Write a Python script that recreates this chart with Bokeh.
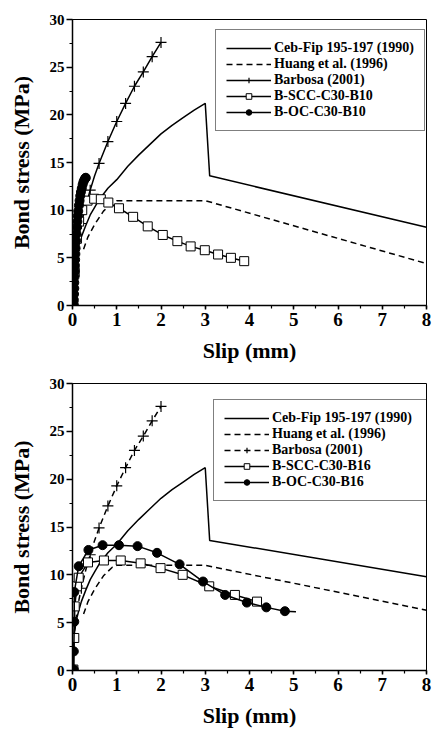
from bokeh.plotting import figure
from bokeh.layouts import column
from bokeh.models import Legend, LegendItem, Range1d, SingleIntervalTicker
from bokeh.embed import file_html
from bokeh.resources import INLINE

# ---------------- data ----------------
cebfip_s = [0, 0.01, 0.03, 0.05, 0.1, 0.15, 0.2, 0.3, 0.4, 0.5, 0.6, 0.8, 1.0, 1.25, 1.5, 1.75,
            2.0, 2.25, 2.5, 2.75, 3.0, 3.1, 8.0]
cebfip_tau_b10 = [0, 2.4, 3.5, 4.2, 5.5, 6.4, 7.2, 8.4, 9.5, 10.3, 11.1, 12.3, 13.2, 14.6, 15.8, 16.9,
                  18.0, 18.9, 19.7, 20.5, 21.2, 13.6, 8.2]
cebfip_tau_b16 = [0, 2.4, 3.5, 4.2, 5.5, 6.4, 7.2, 8.4, 9.5, 10.3, 11.1, 12.3, 13.2, 14.6, 15.8, 16.9,
                  18.0, 18.9, 19.7, 20.5, 21.2, 13.6, 9.8]

huang_s = [0.25, 0.35, 0.5, 0.7, 0.9, 1.0, 3.0, 8.0]
huang_tau_b10 = [5.9, 7.2, 8.5, 9.9, 10.8, 11.0, 11.0, 4.4]
huang_tau_b16 = [5.9, 7.2, 8.5, 9.9, 10.8, 11.0, 11.0, 6.3]

barbosa_s = [0, 0.02, 0.05, 0.1, 0.15, 0.2, 0.3, 0.4, 0.5, 0.6, 0.8, 1.0, 1.2, 1.4, 1.6, 1.8, 2.0]
barbosa_tau = [0, 2.7, 4.3, 6.1, 7.5, 8.6, 10.5, 12.1, 13.6, 14.9, 17.2, 19.3, 21.2, 23.0, 24.5, 26.1, 27.6]
barbosa_mark_s = [0.2, 0.4, 0.6, 0.8, 1.0, 1.2, 1.4, 1.6, 1.8, 2.0]
barbosa_mark_tau = [8.6, 12.1, 14.9, 17.2, 19.3, 21.2, 23.0, 24.5, 26.1, 27.6]

scc_b10_s = [0.02, 0.05, 0.1, 0.15, 0.22, 0.34, 0.49, 0.64, 0.81, 1.05, 1.37, 1.70, 2.04, 2.37, 2.67, 2.99, 3.29, 3.58, 3.88]
scc_b10_tau = [0, 3.5, 7.0, 8.8, 10.0, 11.0, 11.2, 11.15, 10.8, 10.2, 9.3, 8.3, 7.4, 6.75, 6.2, 5.8, 5.35, 5.0, 4.65]

oc_b10_s = [0.03, 0.03, 0.035, 0.04, 0.04, 0.045, 0.05, 0.055, 0.06, 0.065, 0.07, 0.08, 0.09, 0.10,
            0.11, 0.12, 0.13, 0.145, 0.16, 0.175, 0.19, 0.21, 0.23, 0.25, 0.27, 0.29, 0.30]
oc_b10_tau = [0, 0.6, 1.2, 1.8, 2.4, 3.0, 3.6, 4.2, 4.8, 5.4, 6.0, 6.8, 7.5, 8.2,
              8.8, 9.4, 9.9, 10.5, 11.0, 11.5, 11.9, 12.3, 12.7, 13.0, 13.2, 13.35, 13.4]

scc_b16_s = [0.02, 0.04, 0.05, 0.1, 0.14, 0.35, 0.71, 1.09, 1.54, 1.99, 2.49, 3.09, 3.67, 4.17]
scc_b16_tau = [0.1, 3.4, 6.7, 8.8, 9.7, 11.3, 11.5, 11.5, 11.2, 10.7, 10.0, 8.8, 7.9, 7.2]

oc_b16_s = [0.03, 0.03, 0.04, 0.04, 0.14, 0.36, 0.68, 1.05, 1.47, 1.91, 2.42, 2.95, 3.45, 3.94, 4.38, 4.80, 5.05]
oc_b16_tau = [0.1, 2.0, 5.1, 8.2, 10.9, 12.6, 13.1, 13.1, 13.0, 12.3, 11.1, 9.3, 7.9, 7.1, 6.6, 6.2, 6.15]
oc_b16_markers = 16  # last point is the end of the line only

x_label = "Slip (mm)"
y_label = "Bond stress (MPa)"
labels_b10 = ["Ceb-Fip 195-197 (1990)", "Huang et al. (1996)", "Barbosa (2001)", "B-SCC-C30-B10", "B-OC-C30-B10"]
labels_b16 = ["Ceb-Fip 195-197 (1990)", "Huang et al. (1996)", "Barbosa (2001)", "B-SCC-C30-B16", "B-OC-C30-B16"]

FONT = "Liberation Serif"


def make_fig(height, border_top, border_left, border_right, border_bottom):
    p = figure(width=433, height=height, output_backend="svg", toolbar_location=None,
               x_range=Range1d(0, 8), y_range=Range1d(0, 30),
               min_border_top=border_top, min_border_left=border_left,
               min_border_right=border_right, min_border_bottom=border_bottom)
    p.grid.visible = False
    p.outline_line_color = "black"
    p.outline_line_width = 1
    p.background_fill_color = "white"
    p.xaxis.ticker = SingleIntervalTicker(interval=1, num_minor_ticks=2)
    p.yaxis.ticker = SingleIntervalTicker(interval=5, num_minor_ticks=2)
    for ax in (p.xaxis[0], p.yaxis[0]):
        ax.axis_line_width = 1.5
        ax.major_tick_line_width = 1.5
        ax.minor_tick_line_width = 1.2
        ax.major_tick_in = 0
        ax.minor_tick_in = 0
        ax.major_label_text_font = FONT
        ax.major_label_text_font_style = "bold"
        ax.major_label_text_color = "black"
        ax.axis_label_text_font = FONT
        ax.axis_label_text_font_style = "bold"
        ax.axis_label_text_font_size = "22px"
        ax.axis_label_text_color = "black"
    p.xaxis.major_tick_out = 4
    p.xaxis.minor_tick_out = 3
    p.yaxis.major_tick_out = 6
    p.yaxis.minor_tick_out = 3
    p.xaxis.major_label_text_font_size = "19px"
    p.yaxis.major_label_text_font_size = "15px"
    p.xaxis.major_label_standoff = 3
    p.yaxis.major_label_standoff = 2
    p.xaxis.axis_label = x_label
    p.yaxis.axis_label = y_label
    p.xaxis.axis_label_standoff = 9
    p.yaxis.axis_label_standoff = 13
    return p


def add_series(p, ceb_tau, huang_tau, barbosa_dash, scc_s, scc_tau, oc_s, oc_tau, oc_nmark,
               labels, loc, label_width):
    r_ceb = p.line(cebfip_s, ceb_tau, line_color="black", line_width=1.5)
    r_hu = p.line(huang_s, huang_tau, line_color="black", line_width=1.5, line_dash="6 4")
    r_ba = p.line(barbosa_s, barbosa_tau, line_color="black", line_width=1.5,
                  line_dash="6 4" if barbosa_dash else "solid")
    r_ba_m = p.scatter(barbosa_mark_s, barbosa_mark_tau,
                       marker="cross", size=11, line_color="black", line_width=1.2)
    r_scc = p.line(scc_s, scc_tau, line_color="black", line_width=1.5)
    r_scc_m = p.scatter(scc_s, scc_tau, marker="square", size=9, fill_color="white",
                        line_color="black", line_width=1)
    r_oc = p.line(oc_s, oc_tau, line_color="black", line_width=1.5)
    r_oc_m = p.scatter(oc_s[:oc_nmark], oc_tau[:oc_nmark], marker="circle", size=9,
                       fill_color="black", line_color="black")
    items = [
        LegendItem(label=labels[0], renderers=[r_ceb]),
        LegendItem(label=labels[1], renderers=[r_hu]),
        LegendItem(label=labels[2], renderers=[r_ba, r_ba_m]),
        LegendItem(label=labels[3], renderers=[r_scc, r_scc_m]),
        LegendItem(label=labels[4], renderers=[r_oc, r_oc_m]),
    ]
    leg = Legend(items=items, location=loc)
    leg.label_text_font = FONT
    leg.label_text_font_style = "bold"
    leg.label_text_font_size = "14px"
    leg.label_text_color = "black"
    leg.label_height = 14
    leg.label_width = label_width
    leg.label_standoff = 3
    leg.glyph_width = 45
    leg.glyph_height = 14
    leg.spacing = 0
    leg.padding = 10
    leg.margin = 0
    leg.border_line_color = "black"
    leg.border_line_width = 1
    leg.background_fill_color = "white"
    leg.background_fill_alpha = 1
    p.add_layout(leg, "center")


p1 = make_fig(370, 19, 72, 4, 65)
add_series(p1, cebfip_tau_b10, huang_tau_b10, False, scc_b10_s, scc_b10_tau,
           oc_b10_s, oc_b10_tau, len(oc_b10_s), labels_b10, (143, 174), 140)

p2 = make_fig(361, 13, 71, 7, 61)
add_series(p2, cebfip_tau_b16, huang_tau_b16, True, scc_b16_s, scc_b16_tau,
           oc_b16_s, oc_b16_tau, oc_b16_markers, labels_b16, (141, 169), 144)

layout = column(p1, p2, spacing=0)
open("out.html", "w").write(file_html(layout, INLINE))
